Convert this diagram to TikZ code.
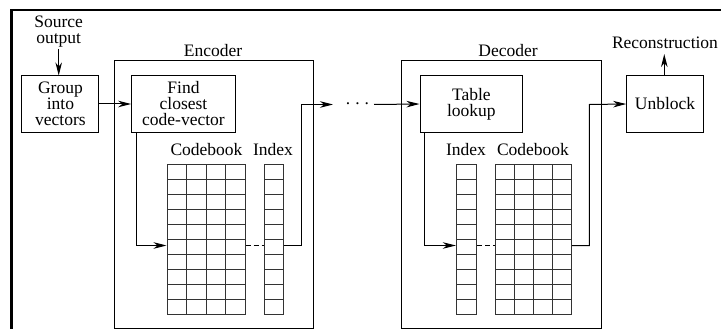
\documentclass[tikz,border=0pt]{standalone}
\usepackage{fontspec}
\setmainfont{Liberation Serif}
\usetikzlibrary{arrows.meta}
\begin{document}
\begin{tikzpicture}[x=1pt,y=-1pt,
  box/.style={draw,line width=1pt,inner sep=0pt,align=center,font=\fontsize{17.5}{16}\selectfont},
  lbl/.style={inner sep=0pt,align=center,font=\fontsize{17.5}{16}\selectfont},
  arr/.style={line width=1pt,-{Stealth[length=13pt,width=6.5pt,inset=4pt]}},
  wire/.style={line width=1pt},
  dashwire/.style={line width=1pt,dash pattern=on 5pt off 3pt},
  tab/.style={draw=black!80,line width=1pt,inner sep=0pt},
  gl/.style={draw=black!80,line width=1pt},
  frame/.style={line width=2.5pt}]
\useasboundingbox (0,0) rectangle (721,329);
\clip (0,0) rectangle (721,329);
% outer frame (cropped)
\draw[frame] (11.3,340) -- (11.3,10) -- (740,10);

% text labels
\node[lbl] (src) at (58.7,31.5) {Source\\output};
\node[lbl] (enclbl) at (213,51) {Encoder};
\node[lbl] (declbl) at (508,51) {Decoder};
\node[lbl] (rec) at (665,43) {Reconstruction};

% blocks
\node[box,minimum width=199pt,minimum height=267pt] (enc) at (213.5,194.5) {};
\node[box,minimum width=199.3pt,minimum height=267pt] (dec) at (501.35,194.5) {};
\node[box,minimum width=77pt,minimum height=56pt] (grp) at (60.4,104) {Group\\into\\vectors};
\node[box,minimum width=103.6pt,minimum height=56pt] (find) at (183.5,104) {Find\\closest\\code-vector};
\node[box,minimum width=102.7pt,minimum height=56pt] (tbl) at (471.35,104) {Table\\lookup};
\node[box,minimum width=76.6pt,minimum height=56pt] (unb) at (665,104) {Unblock};

% table labels
\node[lbl] (cbelbl) at (206.5,150) {Codebook};
\node[lbl] (idxelbl) at (273,150) {Index};
\node[lbl] (idxdlbl) at (466,150) {Index};
\node[lbl] (cbdlbl) at (533,150) {Codebook};

% encoder codebook and index
\node[tab,minimum width=78pt,minimum height=150pt] (cbe) at (206,239) {};
\foreach \i in {1,2,3} \draw[gl] (167+\i*19.5,164) -- (167+\i*19.5,314);
\foreach \j in {1,...,9} \draw[gl] (167,164+\j*15) -- (245,164+\j*15);
\node[tab,minimum width=19pt,minimum height=150pt] (idxe) at (273.5,239) {};
\foreach \j in {1,...,9} \draw[gl] (264,164+\j*15) -- (283,164+\j*15);

% decoder index and codebook
\node[tab,minimum width=20.4pt,minimum height=150pt] (idxd) at (466.5,239) {};
\foreach \j in {1,...,9} \draw[gl] (456.3,164+\j*15) -- (476.7,164+\j*15);
\node[tab,minimum width=76.7pt,minimum height=150pt] (cbd) at (533.35,239) {};
\foreach \i in {1,2,3} \draw[gl] (495+\i*19.17,164) -- (495+\i*19.17,314);
\foreach \j in {1,...,9} \draw[gl] (495,164+\j*15) -- (571.7,164+\j*15);

% dots
\node[lbl] (dots) at (357.5,104) {.\hspace{5pt}.\hspace{5pt}.};

% connectors
\coordinate (srcend) at (58.7,49);
\coordinate (recend) at (664.3,54);
\coordinate (encout) at (333,104.5);
\coordinate (decin) at (374,104.5);
\draw[arr] (srcend) -- (grp.north -| srcend);
\draw[arr] (grp.east) -- (find.west);
\draw[arr] ([xshift=5.5pt]find.south west) |- ([yshift=-6.5pt]cbe.west);
\draw[dashwire] ([yshift=-6.5pt]cbe.east) -- ([yshift=-6.5pt]idxe.west);
\draw[arr] ([yshift=-6.5pt]idxe.east) -| (301,104.5) -- (encout);
\draw[arr] (decin) -- (tbl.west);
\draw[arr] ([xshift=4.5pt]tbl.south west) |- ([yshift=-6.5pt]idxd.west);
\draw[dashwire] ([yshift=-6.5pt]idxd.east) -- ([yshift=-6.5pt]cbd.west);
\draw[arr] ([yshift=-6.5pt]cbd.east) -| (589.3,104.5) -- (unb.west);
\draw[arr] (unb.north -| recend) -- (recend);
\end{tikzpicture}
\end{document}
